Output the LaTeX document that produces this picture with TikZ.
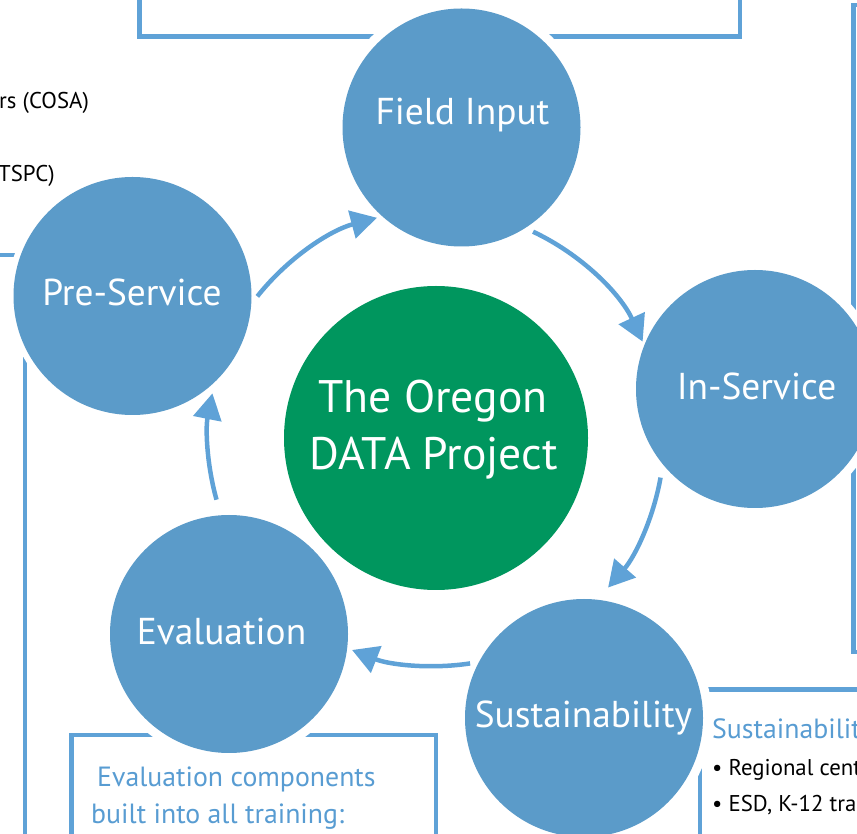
\documentclass[tikz,border=0pt]{standalone}
\usepackage{fontspec}
\setmainfont{PT Sans}
\usetikzlibrary{arrows.meta,calc}
\definecolor{circblue}{RGB}{91,155,201}
\definecolor{lineblue}{RGB}{95,162,215}
\definecolor{txtblue}{RGB}{88,156,210}
\definecolor{dgreen}{RGB}{0,150,94}
\tikzset{
  boxline/.style={draw=lineblue, line width=4.5pt},
  halo/.style={circle, fill=white, minimum size=256pt, inner sep=0pt},
  bluecirc/.style={circle, fill=circblue, minimum size=238pt, inner sep=0pt},
  greencirc/.style={circle, fill=dgreen, minimum size=304pt, inner sep=0pt},
  circtext/.style={text=white, font=\fontsize{37.4}{42}\selectfont, anchor=base, inner sep=0pt},
  centertext/.style={text=white, font=\fontsize{45.6}{52}\selectfont, anchor=base, inner sep=0pt},
  bluetext/.style={text=txtblue, font=\fontsize{27.8}{32}\selectfont, anchor=base west, inner sep=0pt},
  blacktext/.style={text=black, font=\fontsize{22.8}{26}\selectfont, anchor=base west, inner sep=0pt},
  arr/.style={draw=lineblue, line width=4.5pt, -{Triangle[length=26pt, width=28pt]}}
}
\begin{document}
\begin{tikzpicture}[x=1pt,y=1pt]
\useasboundingbox (0,0) rectangle (857,833);
\clip (0,0) rectangle (857,833);
% boxes
\draw[boxline] (139.5,845) -- (139.5,796.5) -- (740,796.5) -- (740,845);
\draw[boxline] (875,828) -- (853.5,828) -- (853.5,181) -- (875,181);
\draw[boxline] (-10,578) -- (25,578) -- (25,-10);
\draw[boxline] (71.5,-10) -- (71.5,98) -- (436,98) -- (436,-10);
\draw[boxline] (700,-10) -- (700,143.5) -- (875,143.5);
% halos
\node[halo] (hfield) at (461.5,705.5) {};
\node[halo, minimum size=250pt] (hpre) at (132.5,537) {};
\node[halo] (hin) at (755,444) {};
\node[halo] (hsust) at (584,115) {};
\node[halo] (heval) at (229,199) {};
% circles
\node[bluecirc] (field) at (461.5,705.5) {};
\node[bluecirc] (pre) at (132.5,537) {};
\node[bluecirc] (in) at (755,444) {};
\node[bluecirc] (sust) at (584,115) {};
\node[bluecirc] (eval) at (229,199) {};
\node[greencirc] (C) at (436,395) {};
% circle labels
\node[circtext] (tfield) at (462.5,708) {Field Input};
\node[circtext] (tpre) at (132,527) {Pre-Service};
\node[circtext] (tin) at (756.5,433) {In-Service};
\node[circtext] (tsust) at (583.5,105) {Sustainability};
\node[circtext] (teval) at (221.5,188) {Evaluation};
\node[centertext] (tc1) at (433,420) {The Oregon};
\node[centertext] (tc2) at (433.5,363) {DATA Project};
% box texts
\node[bluetext] (e1) at (97,46) {Evaluation components};
\node[bluetext] (e2) at (91,10) {built into all training:};
\node[bluetext] (s1) at (712,94) {Sustainability};
\node[blacktext] (s2) at (712,57) {• Regional centers};
\node[blacktext] (s3) at (712,22) {• ESD, K-12 training};
\node[blacktext] (b1) at (-1,724) {rs (COSA)};
\node[blacktext] (b2) at (-2,651) {TSPC)};
% arrows
\coordinate (a1) at ($(C)+(141.6:228)$);
\coordinate (a2) at ($(C)+(64.8:228)$);
\coordinate (a3) at ($(C)+(-10:228)$);
\coordinate (a4) at ($(C)+(-81.4:228)$);
\coordinate (a5) at ($(C)+(195.7:228)$);
\draw[arr] (a1) arc[start angle=141.6, end angle=105, radius=228];
\draw[arr] (a2) arc[start angle=64.8, end angle=25, radius=228];
\draw[arr] (a3) arc[start angle=-10, end angle=-41, radius=228];
\draw[arr] (a4) arc[start angle=-81.4, end angle=-111.6, radius=228];
\draw[arr] (a5) arc[start angle=195.7, end angle=168.7, radius=228];
\end{tikzpicture}
\end{document}
